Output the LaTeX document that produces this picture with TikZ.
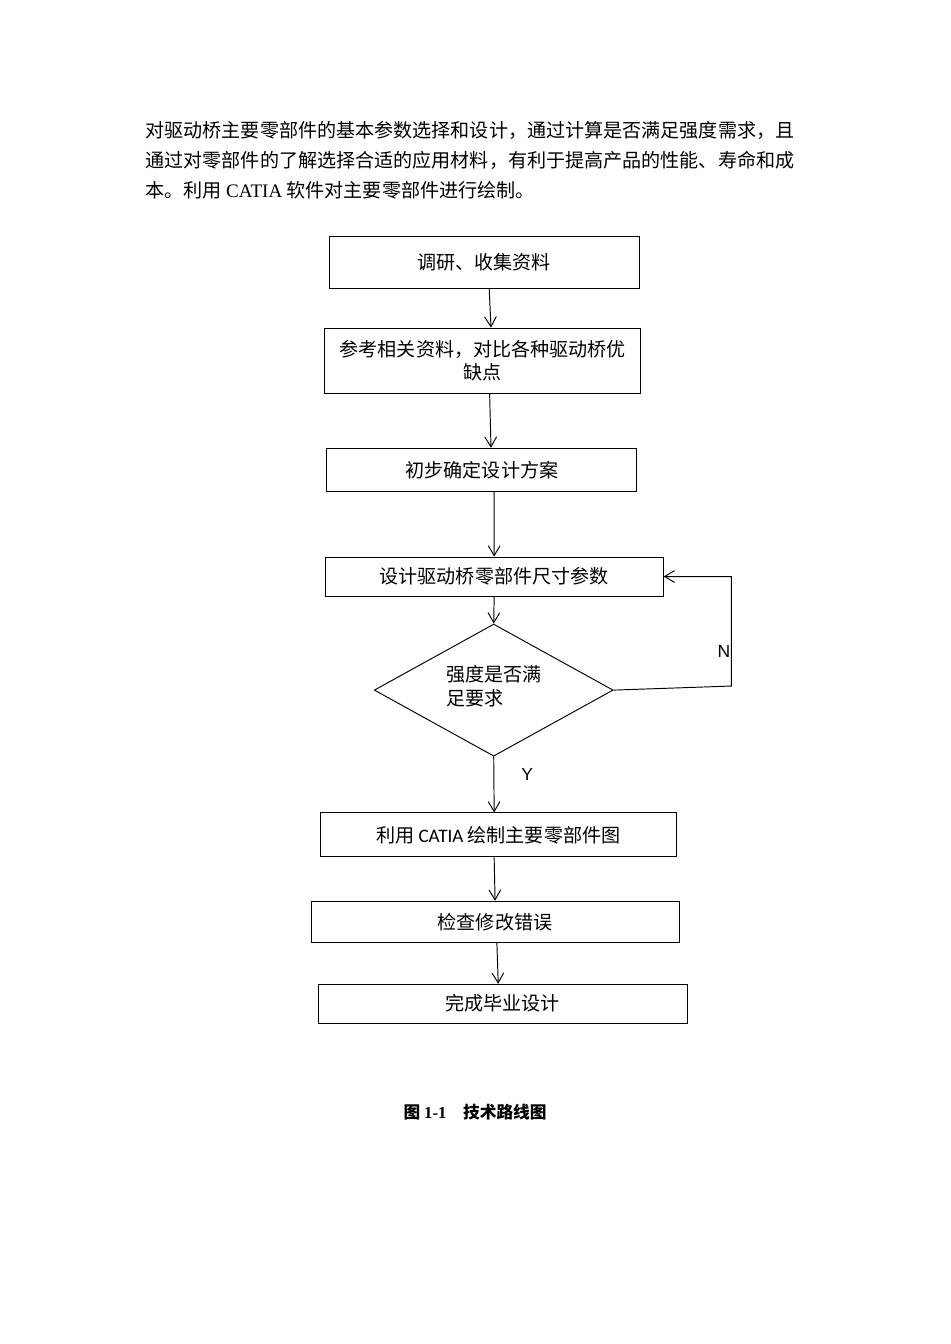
\documentclass[tikz,border=0pt]{standalone}
\usepackage{fontspec}
\setmainfont{Liberation Serif}
\newfontfamily\cjk{Noto Sans CJK SC}
\newfontfamily\boxlatin{Carlito}
\newfontfamily\yn{Liberation Sans}
\usepackage{tikz}
\usetikzlibrary{shapes.geometric,arrows.meta}

\begin{document}
\begin{tikzpicture}[
      line width=0.6pt,
      para/.style={anchor=west, inner sep=0pt, font=\cjk\fontsize{12}{14}\selectfont},
      stepbox/.style={
          rectangle, draw=black, fill=white,
          inner sep=2pt, align=center,
          font=\cjk\fontsize{12}{15}\selectfont
      },
      check/.style={
          diamond, draw=black, inner sep=0pt,
          minimum width=5.28cm, minimum height=2.92cm
      },
      tag/.style={inner sep=0pt, font=\yn\fontsize{11}{13}\selectfont},
      arr/.style={-{Straight Barb[length=2.2mm,width=2.6mm]}, line width=0.6pt}
  ]
  \useasboundingbox (0,0) rectangle (21.0,-29.70);

  % paragraph above the chart
  \node[para] (p1) at (3.205,-2.873)
      {对驱动桥主要零部件的基本参数选择和设计，通过计算是否满足强度需求，且};
  \node[para] (p2) at (3.205,-3.536)
      {通过对零部件的了解选择合适的应用材料，有利于提高产品的性能、寿命和成};
  \node[para] (p3) at (3.205,-4.199)
      {本。利用 {\rmfamily CATIA} 软件对主要零部件进行绘制。};

  % boxes
  \node[stepbox, minimum width=6.85cm, minimum height=1.13cm] (b1) at (10.70,-5.80) {调研、收集资料};
  \node[stepbox, minimum width=6.98cm, minimum height=1.44cm, text width=6.4cm] (b2) at (10.67,-7.97)
      {参考相关资料，对比各种驱动桥优\\缺点};
  \node[stepbox, minimum width=6.85cm, minimum height=0.95cm] (b3) at (10.65,-10.38) {初步确定设计方案};
  \node[stepbox, minimum width=7.47cm, minimum height=0.86cm] (b4) at (10.92,-12.74) {设计驱动桥零部件尺寸参数};
  \node[check] (dia) at (10.91,-15.25) {};
  \node[font=\cjk\fontsize{12}{15}\selectfont, align=left, inner sep=0pt] (dtext) at (10.92,-15.16)
      {强度是否满\\足要求};
  \node[stepbox, minimum width=7.87cm, minimum height=0.97cm] (b5) at (11.01,-18.45)
      {利用 {\boxlatin CATIA} 绘制主要零部件图};
  \node[stepbox, minimum width=8.13cm, minimum height=0.91cm] (b6) at (10.94,-20.37) {检查修改错误};
  \node[stepbox, minimum width=8.15cm, minimum height=0.86cm] (b7) at (11.11,-22.18) {完成毕业设计};

  % arrows
  \draw[arr] ([xshift=0.11cm]b1.south) -- ([xshift=0.18cm]b2.north);
  \draw[arr] ([xshift=0.15cm]b2.south) -- ([xshift=0.20cm]b3.north);
  \draw[arr] ([xshift=0.27cm]b3.south) -- (b4.north);
  \draw[arr] (b4.south) -- (dia.north);
  \draw[arr] (dia.south) -- ([xshift=-0.09cm]b5.north);
  \draw[arr] ([xshift=-0.09cm]b5.south) -- (b6.north);
  \draw[arr] ([xshift=0.04cm]b6.south) -- ([xshift=-0.10cm]b7.north);

  % N loop
  \coordinate (nR) at (16.16,-15.16);
  \draw[arr] (dia.east) -- (nR) |- (b4.east);
  \node[tag] (nlab) at (16.00,-14.39) {N};
  \node[tag] (ylab) at (11.65,-17.11) {Y};

  % caption
  \node[font=\cjk\bfseries\fontsize{10.5}{12}\selectfont, inner sep=0pt] (cap) at (10.50,-24.58)
      {图 {\rmfamily\bfseries 1-1}\quad 技术路线图};
\end{tikzpicture}
\end{document}
